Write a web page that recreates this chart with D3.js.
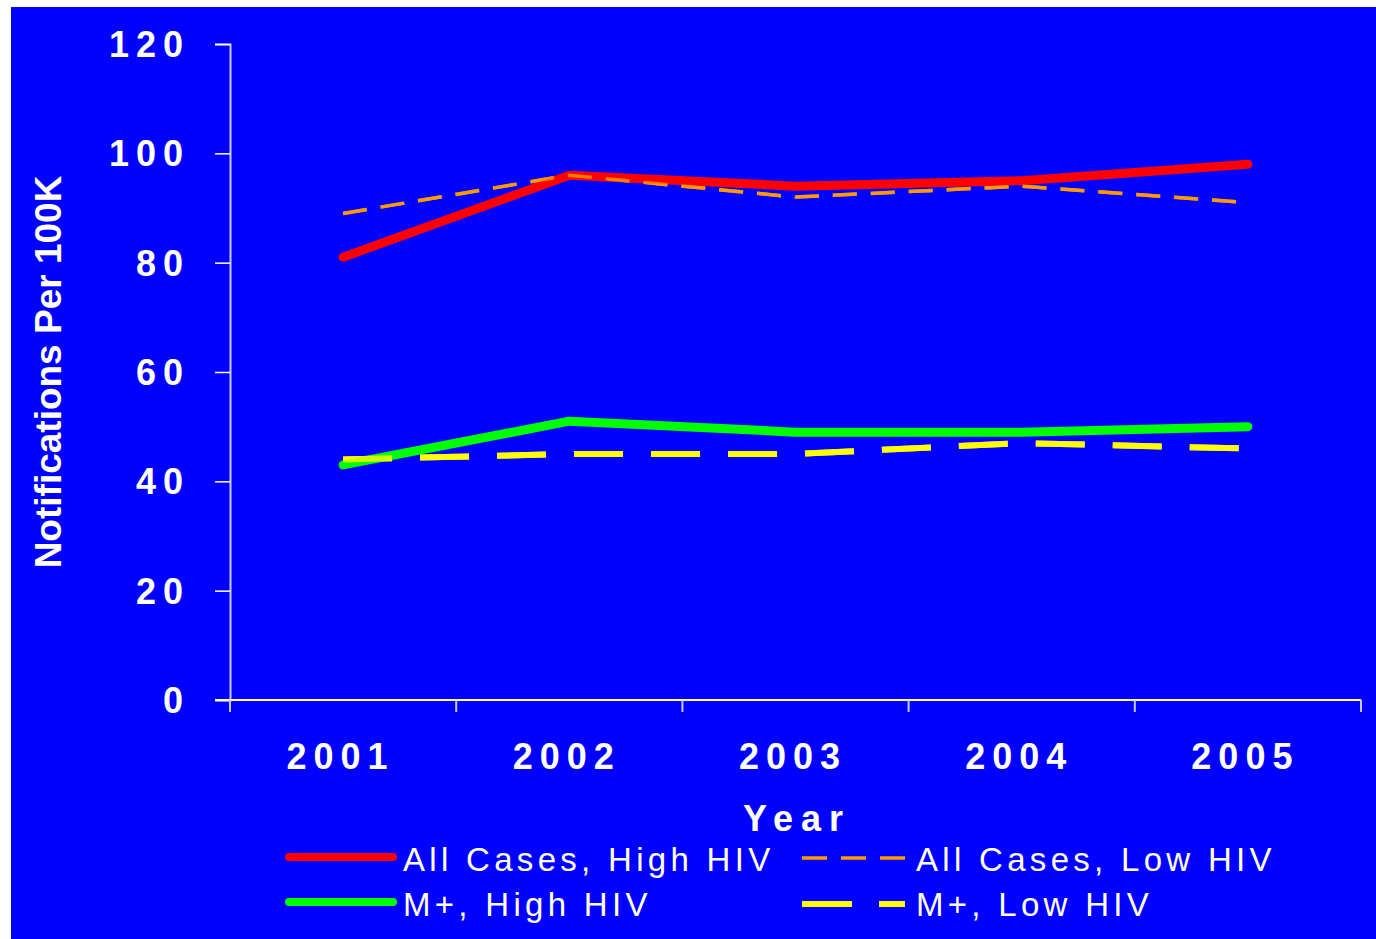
<!DOCTYPE html>
<html>
<head>
<meta charset="utf-8">
<script src="https://cdn.jsdelivr.net/npm/d3@7"></script>
<style>
  html, body { margin: 0; padding: 0; background: #ffffff; }
  svg { display: block; }
  text { font-family: "Liberation Sans", Arial, sans-serif; fill: #ffffff; }
</style>
</head>
<body>
<svg id="chart" width="1376" height="939"></svg>
<script>
// data
var years = ["2001", "2002", "2003", "2004", "2005"];
var allHigh = [81, 96, 94, 95, 98];
var allLow = [89, 96, 92, 94, 91];
var mHigh = [43, 51, 49, 49, 50];
var mLow = [44, 45, 45, 47, 46];
var yTicks = [0, 20, 40, 60, 80, 100, 120];

var series = [
    { name: "All Cases, High HIV", values: allHigh, color: "#ff0000", width: 9, dash: null, cap: "round" },
    { name: "All Cases, Low HIV", values: allLow, color: "#ff9900", width: 3.5, dash: "24,14", cap: "butt" },
    { name: "M+, High HIV", values: mHigh, color: "#00ff00", width: 9, dash: null, cap: "round" },
    { name: "M+, Low HIV", values: mLow, color: "#ffff00", width: 6, dash: "49,28", cap: "butt" }
];

var svg = d3.select("#chart");

// blue background panel
svg.append("rect")
    .attr("x", 11)
    .attr("y", 7)
    .attr("width", 1365)
    .attr("height", 932)
    .attr("fill", "#0000ff");

var plotLeft = 230, plotRight = 1361, plotTop = 44, plotBottom = 700;

var x = d3.scaleBand()
    .domain(years)
    .range([plotLeft, plotRight])
    .padding(0);

var y = d3.scaleLinear()
    .domain([0, 120])
    .range([plotBottom, plotTop]);

// y axis
var yAxis = svg.append("g")
    .attr("transform", "translate(" + plotLeft + ",0)")
    .call(d3.axisLeft(y).tickValues(yTicks).tickSize(15).tickPadding(0).tickFormat(""));
yAxis.select(".domain").attr("stroke", "#c8c8ff").attr("stroke-width", 2);
yAxis.selectAll(".tick line").attr("stroke", "#ffffff").attr("stroke-width", 1.5);

svg.append("g").selectAll("text")
    .data(yTicks)
    .enter()
    .append("text")
    .attr("x", 190)
    .attr("y", function (d) { return y(d) + 13; })
    .attr("text-anchor", "end")
    .style("font-size", "36px")
    .style("font-weight", "bold")
    .style("letter-spacing", "7px")
    .text(function (d) { return d; });

// x axis
var xAxis = svg.append("g")
    .attr("transform", "translate(0," + plotBottom + ")");
xAxis.append("line")
    .attr("x1", 215).attr("x2", plotRight)
    .attr("y1", 0).attr("y2", 0)
    .attr("stroke", "#ffffff").attr("stroke-width", 2);
var xTickPos = years.map(function (d) { return x(d); }).concat([plotRight]);
xAxis.selectAll(".xtick")
    .data(xTickPos)
    .enter()
    .append("line")
    .attr("class", "xtick")
    .attr("x1", function (d) { return d; })
    .attr("x2", function (d) { return d; })
    .attr("y1", 0).attr("y2", 12)
    .attr("stroke", "#c8c8ff").attr("stroke-width", 2);

svg.append("g").selectAll("text")
    .data(years)
    .enter()
    .append("text")
    .attr("x", function (d) { return x(d) + x.bandwidth() / 2 - 2.5; })
    .attr("y", 769)
    .attr("text-anchor", "middle")
    .style("font-size", "36px")
    .style("font-weight", "bold")
    .style("letter-spacing", "7px")
    .text(function (d) { return d; });

// axis titles
svg.append("text")
    .attr("x", 797)
    .attr("y", 831)
    .attr("text-anchor", "middle")
    .style("font-size", "36px")
    .style("font-weight", "bold")
    .style("letter-spacing", "8px")
    .text("Year");

svg.append("text")
    .attr("transform", "translate(61,372) rotate(-90)")
    .attr("text-anchor", "middle")
    .style("font-size", "37px")
    .style("font-weight", "bold")
    .text("Notifications Per 100K");

// lines
var line = d3.line()
    .x(function (d, i) { return x(years[i]) + x.bandwidth() / 2; })
    .y(function (d) { return y(d); });

var drawOrder = [1, 3, 0, 2];
svg.append("g").selectAll("path")
    .data(drawOrder.map(function (i) { return series[i]; }))
    .enter()
    .append("path")
    .attr("d", function (d) { return line(d.values); })
    .attr("fill", "none")
    .attr("stroke", function (d) { return d.color; })
    .attr("stroke-width", function (d) { return d.width; })
    .attr("stroke-dasharray", function (d) { return d.dash; })
    .attr("stroke-linecap", function (d) { return d.cap; })
    .attr("stroke-linejoin", "round");

// redraw the dashed lines on top where they overlap the solid ones
svg.append("g").selectAll("path")
    .data([series[1], series[3]])
    .enter()
    .append("path")
    .attr("d", function (d) { return line(d.values); })
    .attr("fill", "none")
    .attr("stroke", function (d) { return d.color; })
    .attr("stroke-width", function (d) { return d.width; })
    .attr("stroke-dasharray", function (d) { return d.dash; })
    .attr("opacity", 0.8);

// legend
var legendPos = [
    { lx: 289, tx: 403, y: 857 },
    { lx: 802, tx: 916, y: 858 },
    { lx: 289, tx: 403, y: 902 },
    { lx: 802, tx: 916, y: 904 }
];
var legend = svg.append("g").selectAll("g")
    .data(series)
    .enter()
    .append("g");
legend.append("line")
    .attr("x1", function (d, i) { return legendPos[i].lx; })
    .attr("x2", function (d, i) { return d.cap === "round" ? legendPos[i].lx + 104 : legendPos[i].lx + 103; })
    .attr("y1", function (d, i) { return legendPos[i].y; })
    .attr("y2", function (d, i) { return legendPos[i].y; })
    .attr("stroke", function (d) { return d.color; })
    .attr("stroke-width", function (d) { return d.cap === "round" ? 8 : d.width; })
    .attr("stroke-linecap", function (d) { return d.cap; })
    .attr("stroke-dasharray", function (d) { return d.dash === null ? null : (d.width > 4 ? "50,27" : "25,14"); });
legend.append("text")
    .attr("x", function (d, i) { return legendPos[i].tx; })
    .attr("y", function (d, i) { return i < 2 ? 871 : 916; })
    .style("font-size", "33px")
    .style("letter-spacing", "4.3px")
    .text(function (d) { return d.name; });
</script>
</body>
</html>
